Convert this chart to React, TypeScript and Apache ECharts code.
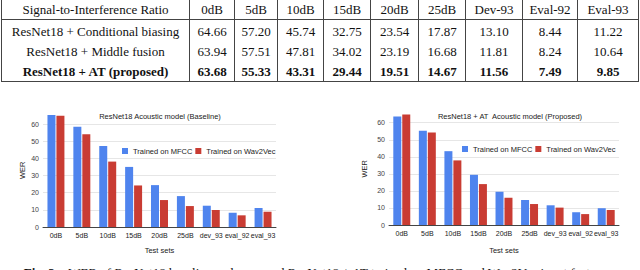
import React, { useEffect, useRef } from "react";
import * as echarts from "echarts";

// ---------- Table data ----------
const tableHeader = ["Signal-to-Interference Ratio", "0dB", "5dB", "10dB", "15dB", "20dB", "25dB", "Dev-93", "Eval-92", "Eval-93"];
const methodNames = ["ResNet18 + Conditional biasing", "ResNet18 + Middle fusion", "ResNet18 + AT (proposed)"];
const condBiasing = ["64.66", "57.20", "45.74", "32.75", "23.54", "17.87", "13.10", "8.44", "11.22"];
const middleFusion = ["63.94", "57.51", "47.81", "34.02", "23.19", "16.68", "11.81", "8.24", "10.64"];
const proposedAT = ["63.68", "55.33", "43.31", "29.44", "19.51", "14.67", "11.56", "7.49", "9.85"];

// ---------- Chart data ----------
const testSets = ["0dB", "5dB", "10dB", "15dB", "20dB", "25dB", "dev_93", "eval_92", "eval_93"];
const baselineMFCC = [65.2, 58.4, 47.2, 35.0, 24.4, 18.0, 12.4, 8.3, 11.0];
const baselineW2V = [64.8, 54.0, 38.1, 24.2, 15.7, 12.2, 9.9, 6.8, 8.9];
const proposedMFCC = [63.68, 55.33, 43.31, 29.44, 19.51, 14.67, 11.56, 7.49, 9.85];
const proposedW2V = [64.9, 54.3, 37.9, 24.0, 16.0, 12.3, 10.2, 6.4, 8.8];
const yTicks = [0, 10, 20, 30, 40, 50, 60];

const leftTitle = "ResNet18 Acoustic model (Baseline)";
const rightTitle = "ResNet18 + AT  Acoustic model (Proposed)";
const xName = "Test sets";
const yName = "WER";
const legendNames = ["Trained on MFCC", "Trained on Wav2Vec"];
const caption = "WER of ResNet18 baseline and proposed ResNet18 + AT trained on MFCC and Wav2Vec input features";

const BLUE = "#4f84ee";
const RED = "#c93c33";
const SANS = "'Liberation Sans'";
const SERIF = "'Liberation Serif'";

export default function App() {
  const ref = useRef<HTMLDivElement>(null);

  useEffect(() => {
    if (!ref.current) return;
    const chart = echarts.init(ref.current, null, { renderer: "svg" });

    // table layout
    const colLines = [1.5, 189.5, 234.5, 277.5, 323.5, 370.5, 418.5, 465.5, 522.5, 577.5, 638.5];
    const rowY = [9.5, 31, 51.5, 71.5];
    const g: any[] = [];
    const lineStyle = { stroke: "#444", lineWidth: 1 };
    colLines.forEach((x) => {
      g.push({ type: "line", shape: { x1: x, y1: 0, x2: x, y2: 81.5 }, style: lineStyle, silent: true });
    });
    g.push({ type: "line", shape: { x1: 1, y1: 19.5, x2: 639, y2: 19.5 }, style: lineStyle, silent: true });
    g.push({ type: "line", shape: { x1: 1, y1: 81.5, x2: 639, y2: 81.5 }, style: lineStyle, silent: true });

    const cellText = (text: string, col: number, row: number, bold: boolean) => {
      const cx = (colLines[col] + colLines[col + 1]) / 2;
      g.push({
        type: "text",
        x: cx,
        y: rowY[row],
        silent: true,
        style: {
          text,
          fill: "#111",
          fontSize: 13,
          fontFamily: SERIF,
          fontWeight: bold ? "bold" : "normal",
          align: "center",
          verticalAlign: "middle",
        },
      });
    };
    tableHeader.forEach((h, i) => cellText(h, i, 0, false));
    const rows = [condBiasing, middleFusion, proposedAT];
    rows.forEach((vals, r) => {
      const bold = r === 2;
      cellText(methodNames[r], 0, r + 1, bold);
      vals.forEach((v, i) => cellText(v, i + 1, r + 1, bold));
    });

    // chart titles
    g.push({
      type: "text", x: 160, y: 116, silent: true,
      style: { text: leftTitle, fill: "#222", fontSize: 7.5, fontFamily: SANS, align: "center", verticalAlign: "middle" },
    });
    g.push({
      type: "text", x: 510, y: 116.5, silent: true,
      style: { text: rightTitle, fill: "#222", fontSize: 7.5, fontFamily: SANS, align: "center", verticalAlign: "middle" },
    });

    // caption (cut off by the bottom edge, as in the reference)
    g.push({
      type: "text", x: 318, y: 265.5, silent: true,
      style: {
        text: "{b|Fig. 2.}   " + caption,
        fill: "#111",
        fontSize: 13,
        fontFamily: SERIF,
        align: "center",
        verticalAlign: "top",
        rich: { b: { fontWeight: "bold", fontSize: 13, fontFamily: SERIF } },
      },
    });

    const yAxisCommon = (idx: number, gap: number) => ({
      type: "value",
      gridIndex: idx,
      min: yTicks[0],
      max: 66,
      interval: 10,
      name: yName,
      nameLocation: "middle",
      nameGap: gap,
      nameTextStyle: { fontSize: 7.5, fontFamily: SANS, color: "#222" },
      axisLine: { show: false },
      axisTick: { show: false },
      axisLabel: { fontSize: 7, fontFamily: SANS, color: "#444", margin: 4, showMaxLabel: false },
      splitLine: { show: true, showMaxLine: false, lineStyle: { color: "#e6e6e6", width: 1 } },
    });

    const xAxisCommon = (idx: number, gap: number) => ({
      type: "category",
      gridIndex: idx,
      data: testSets,
      name: xName,
      nameLocation: "middle",
      nameGap: gap,
      nameTextStyle: { fontSize: 7.5, fontFamily: SANS, color: "#222" },
      axisLine: { show: true, lineStyle: { color: "#444", width: 1 } },
      axisTick: { show: false },
      axisLabel: { fontSize: 7, fontFamily: SANS, color: "#222", margin: 5, interval: 0 },
    });

    const barCommon = { type: "bar", barWidth: 8, barGap: "12%", emphasis: { disabled: true } };

    const legendCommon = {
      orient: "horizontal",
      padding: 0,
      itemWidth: 6,
      itemHeight: 6,
      itemGap: 3,
      icon: "rect",
      selectedMode: false,
      textStyle: { fontSize: 7.5, fontFamily: SANS, color: "#222" },
      data: legendNames,
    };

    const option: any = {
      animation: false,
      backgroundColor: "#fff",
      graphic: g,
      legend: [
        { ...legendCommon, left: 122, top: 147 },
        { ...legendCommon, left: 462, top: 145 },
      ],
      grid: [
        { left: 43, top: 113.7, width: 233, height: 113.3 },
        { left: 389, top: 112.5, width: 230, height: 112.5 },
      ],
      xAxis: [xAxisCommon(0, 19), xAxisCommon(1, 21)],
      yAxis: [yAxisCommon(0, 17), yAxisCommon(1, 21)],
      series: [
        { ...barCommon, name: legendNames[0], xAxisIndex: 0, yAxisIndex: 0, data: baselineMFCC, itemStyle: { color: BLUE } },
        { ...barCommon, name: legendNames[1], xAxisIndex: 0, yAxisIndex: 0, data: baselineW2V, itemStyle: { color: RED } },
        { ...barCommon, name: legendNames[0], xAxisIndex: 1, yAxisIndex: 1, data: proposedMFCC, itemStyle: { color: BLUE } },
        { ...barCommon, name: legendNames[1], xAxisIndex: 1, yAxisIndex: 1, data: proposedW2V, itemStyle: { color: RED } },
      ],
    };

    chart.setOption(option);
    return () => chart.dispose();
  }, []);

  return (
    <div
      ref={ref}
      style={{ position: "fixed", left: 0, top: 0, width: 640, height: 270, background: "#fff" }}
    />
  );
}
